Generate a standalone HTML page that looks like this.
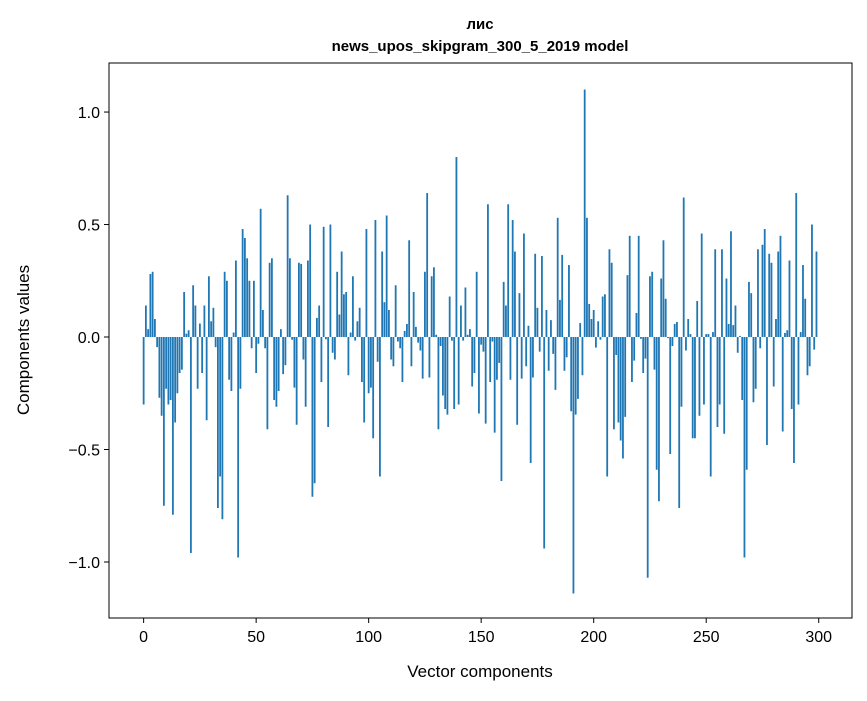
<!DOCTYPE html>
<html><head><meta charset="utf-8"><style>
body{margin:0;background:#fff;}
svg text{font-family:"Liberation Sans","DejaVu Sans",sans-serif;}
</style></head><body>
<svg id="chart" width="867" height="696" xmlns="http://www.w3.org/2000/svg">
<rect width="867" height="696" fill="#fff"/>
<text x="480" y="29" text-anchor="middle" font-size="15" font-weight="bold">лис</text>
<text x="480" y="51" text-anchor="middle" font-size="15" font-weight="bold">news_upos_skipgram_300_5_2019 model</text>
<g id="bars"></g>
<g id="axes"></g>
<text x="480" y="677" text-anchor="middle" font-size="17">Vector components</text>
<text transform="translate(29,340) rotate(-90)" text-anchor="middle" font-size="17">Components values</text>
</svg>
<script>
const values = [-0.30,0.14,0.035,0.28,0.29,0.08,-0.045,-0.27,-0.35,-0.75,
-0.23,-0.30,-0.28,-0.79,-0.38,-0.25,-0.16,-0.145,0.20,0.015,
0.03,-0.96,0.23,0.14,-0.23,0.06,-0.16,0.14,-0.37,0.27,
0.07,0.13,-0.045,-0.76,-0.62,-0.81,0.29,0.25,-0.19,-0.24,
0.02,0.34,-0.98,-0.23,0.48,0.44,0.35,0.25,-0.05,0.25,
-0.16,-0.03,0.57,0.12,-0.05,-0.41,0.33,0.35,-0.28,-0.31,
-0.24,0.035,-0.165,-0.125,0.63,0.35,-0.012,-0.225,-0.39,0.33,
0.325,-0.10,-0.31,0.34,0.50,-0.71,-0.65,0.085,0.14,-0.20,
0.49,-0.01,-0.40,0.50,-0.07,-0.10,0.29,0.10,0.38,0.19,
0.20,-0.17,0.02,0.27,-0.016,0.07,0.13,-0.20,-0.38,0.48,
-0.25,-0.225,-0.45,0.52,-0.11,-0.62,0.38,0.155,0.54,0.12,
-0.10,-0.13,0.23,-0.02,-0.05,-0.20,0.027,0.058,0.43,-0.13,
0.20,0.045,-0.025,-0.06,-0.185,0.29,0.64,-0.18,0.27,0.31,
0.01,-0.41,-0.04,-0.26,-0.32,-0.345,0.18,-0.016,-0.32,0.80,
-0.30,0.14,-0.016,0.22,0.01,0.035,-0.22,-0.16,0.29,-0.34,
-0.034,-0.065,-0.385,0.59,-0.20,-0.02,-0.425,-0.19,-0.115,-0.64,
0.245,0.14,0.59,-0.19,0.52,0.38,-0.39,0.195,-0.185,0.46,
-0.13,0.05,-0.56,-0.18,0.37,0.13,-0.065,0.36,-0.94,0.12,
-0.15,0.075,-0.075,-0.235,0.53,0.165,0.365,-0.15,-0.09,0.32,
-0.33,-1.14,-0.345,-0.275,0.062,-0.17,1.10,0.53,0.147,0.08,
0.12,-0.047,0.07,-0.012,0.18,0.19,-0.62,0.39,0.33,-0.41,
-0.08,-0.38,-0.46,-0.54,-0.355,0.275,0.45,-0.20,-0.105,0.107,
0.45,-0.008,-0.16,-0.096,-1.07,0.27,0.29,-0.145,-0.59,-0.73,
0.26,0.43,0.17,-0.005,-0.52,-0.04,0.058,0.067,-0.76,-0.31,
0.62,-0.06,0.08,0.013,-0.45,-0.45,0.16,-0.35,0.46,-0.30,
0.013,0.013,-0.62,0.022,0.39,-0.40,-0.30,0.39,-0.43,0.26,
0.058,0.47,0.053,0.14,-0.07,0.005,-0.28,-0.98,-0.59,0.245,
0.195,-0.29,-0.23,0.39,-0.05,0.41,0.48,-0.48,0.37,0.33,
-0.22,0.08,0.38,0.45,-0.42,0.018,0.03,0.34,-0.32,-0.56,
0.64,-0.30,0.022,0.32,0.17,-0.17,-0.13,0.50,-0.056,0.38];
const xTicks = [0,50,100,150,200,250,300];
const yTicks = [-1.0,-0.5,0.0,0.5,1.0];
const yTickLabels = ["\u22121.0","\u22120.5","0.0","0.5","1.0"];

const L=109,R=852,T=63,B=618;
const xmin=-15.39,xmax=314.79,ymin=-1.249,ymax=1.218;
const xs=v=>L+(v-xmin)/(xmax-xmin)*(R-L);
const ys=v=>T+(ymax-v)/(ymax-ymin)*(B-T);
const NS="http://www.w3.org/2000/svg";
const bars=document.getElementById('bars');
values.forEach((v,i)=>{
  const r=document.createElementNS(NS,'rect');
  const x0=xs(i-0.4),x1=xs(i+0.4);
  const y0=ys(Math.max(v,0)),y1=ys(Math.min(v,0));
  r.setAttribute('x',x0);r.setAttribute('width',x1-x0);
  r.setAttribute('y',y0);r.setAttribute('height',Math.max(y1-y0,0.01));
  r.setAttribute('fill','#1f77b4');
  
  
  bars.appendChild(r);
});
const axes=document.getElementById('axes');
const frame=document.createElementNS(NS,'rect');
frame.setAttribute('x',L);frame.setAttribute('y',T);frame.setAttribute('width',R-L);frame.setAttribute('height',B-T);
frame.setAttribute('fill','none');frame.setAttribute('stroke','#000');frame.setAttribute('stroke-width','1');


axes.appendChild(frame);
xTicks.forEach(t=>{
  const x=xs(t);
  const l=document.createElementNS(NS,'line');
  l.setAttribute('x1',x);l.setAttribute('x2',x);l.setAttribute('y1',B);l.setAttribute('y2',B+5);l.setAttribute('stroke','#000');
  
  
  axes.appendChild(l);
  const tx=document.createElementNS(NS,'text');
  tx.setAttribute('x',x);tx.setAttribute('y',B+24);tx.setAttribute('text-anchor','middle');tx.setAttribute('font-size','16');
  tx.textContent=t;
  
  
  axes.appendChild(tx);
});
yTicks.forEach((t,i)=>{
  const y=ys(t);
  const l=document.createElementNS(NS,'line');
  l.setAttribute('x1',L-5);l.setAttribute('x2',L);l.setAttribute('y1',y);l.setAttribute('y2',y);l.setAttribute('stroke','#000');
  
  
  axes.appendChild(l);
  const tx=document.createElementNS(NS,'text');
  tx.setAttribute('x',L-9);tx.setAttribute('y',y+6);tx.setAttribute('text-anchor','end');tx.setAttribute('font-size','16');
  tx.textContent=yTickLabels[i];
  
  
  axes.appendChild(tx);
});
</script>
</body></html>
